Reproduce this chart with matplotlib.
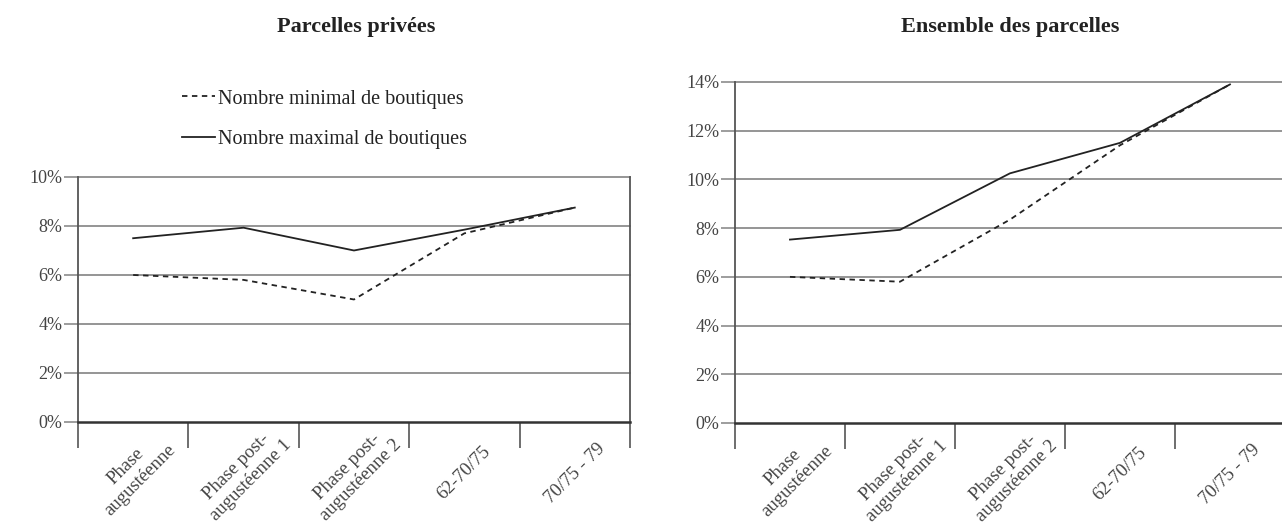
import matplotlib
matplotlib.use("Agg")
import matplotlib.pyplot as plt
import numpy as np

# Data (share of parcels with shops, in %)
categories = [
    "Phase\naugustéenne",
    "Phase post-\naugustéenne 1",
    "Phase post-\naugustéenne 2",
    "62-70/75",
    "70/75 - 79",
]
privees_min = [6.0, 5.8, 5.0, 7.7, 8.75]
privees_max = [7.5, 7.93, 7.0, 7.85, 8.75]
ensemble_min = [6.0, 5.8, 8.35, 11.4, 13.9]
ensemble_max = [7.53, 7.93, 10.25, 11.5, 13.9]

legend_labels = ["Nombre minimal de boutiques", "Nombre maximal de boutiques"]

plt.rcParams['font.family'] = ['Liberation Serif', 'DejaVu Serif']

fig = plt.figure(figsize=(12.82, 5.28), dpi=100)
ax1 = fig.add_axes([0.0608, 0.2008, 0.4306, 0.464])
ax2 = fig.add_axes([0.5733, 0.1989, 0.429, 0.6458])

grid_col = "#8c8c8c"
spine_col = "#555555"
text_col = "#444444"


def style_axis(ax, ymax):
    x = np.arange(len(categories))
    ax.set_xlim(-0.5, len(categories) - 0.5)
    ax.set_ylim(0, ymax)
    ax.set_yticks(np.arange(0, ymax + 1, 2))
    ax.set_yticklabels([f"{v}%" for v in range(0, ymax + 1, 2)],
                       fontsize=13, color=text_col)
    for y in range(2, ymax + 1, 2):
        ax.axhline(y, color=grid_col, lw=1.3, zorder=0, clip_on=False)
    ax.tick_params(axis="y", direction="out", length=10, width=1.2,
                   color=grid_col, pad=1)
    # category boundaries as tick marks
    ax.set_xticks(np.arange(-0.5, len(categories), 1.0))
    ax.set_xticklabels([])
    ax.tick_params(axis="x", direction="out", length=19, width=1.2,
                   color=spine_col)
    for i, lab in enumerate(categories):
        ax.annotate(lab, xy=(x[i], 0), xycoords=("data", "axes fraction"),
                    xytext=(0, -37), textcoords="offset points",
                    rotation=45, ha="center", va="center",
                    multialignment="center", fontsize=13.5, color=text_col)
    ax.spines["top"].set_visible(False)
    for s in ["left", "right"]:
        ax.spines[s].set_color(spine_col)
        ax.spines[s].set_linewidth(1.3)
    ax.spines["bottom"].set_color("#333333")
    ax.spines["bottom"].set_linewidth(1.8)


x = np.arange(len(categories))

style_axis(ax1, 10)
l1, = ax1.plot(x, privees_min, color="#222222", lw=1.3, ls=(0, (3, 2.5)))
l2, = ax1.plot(x, privees_max, color="#222222", lw=1.3)

style_axis(ax2, 14)
ax2.plot(x, ensemble_min, color="#222222", lw=1.3, ls=(0, (3, 2.5)))
ax2.plot(x, ensemble_max, color="#222222", lw=1.3)

fig.text(356 / 1282, 1 - 27 / 528, "Parcelles privées", fontsize=16,
         fontweight="semibold", color="#222222", ha="center", va="center")
fig.text(1010 / 1282, 1 - 27 / 528, "Ensemble des parcelles", fontsize=16,
         fontweight="semibold", color="#222222", ha="center", va="center")

fig.legend([l1, l2], legend_labels, loc="upper left",
           bbox_to_anchor=(0.128, 0.865), frameon=False, fontsize=14.5,
           handlelength=1.65, handletextpad=0.15, labelspacing=1.05,
           labelcolor="#222222")

fig.savefig("out.png", dpi=100, facecolor="white")
